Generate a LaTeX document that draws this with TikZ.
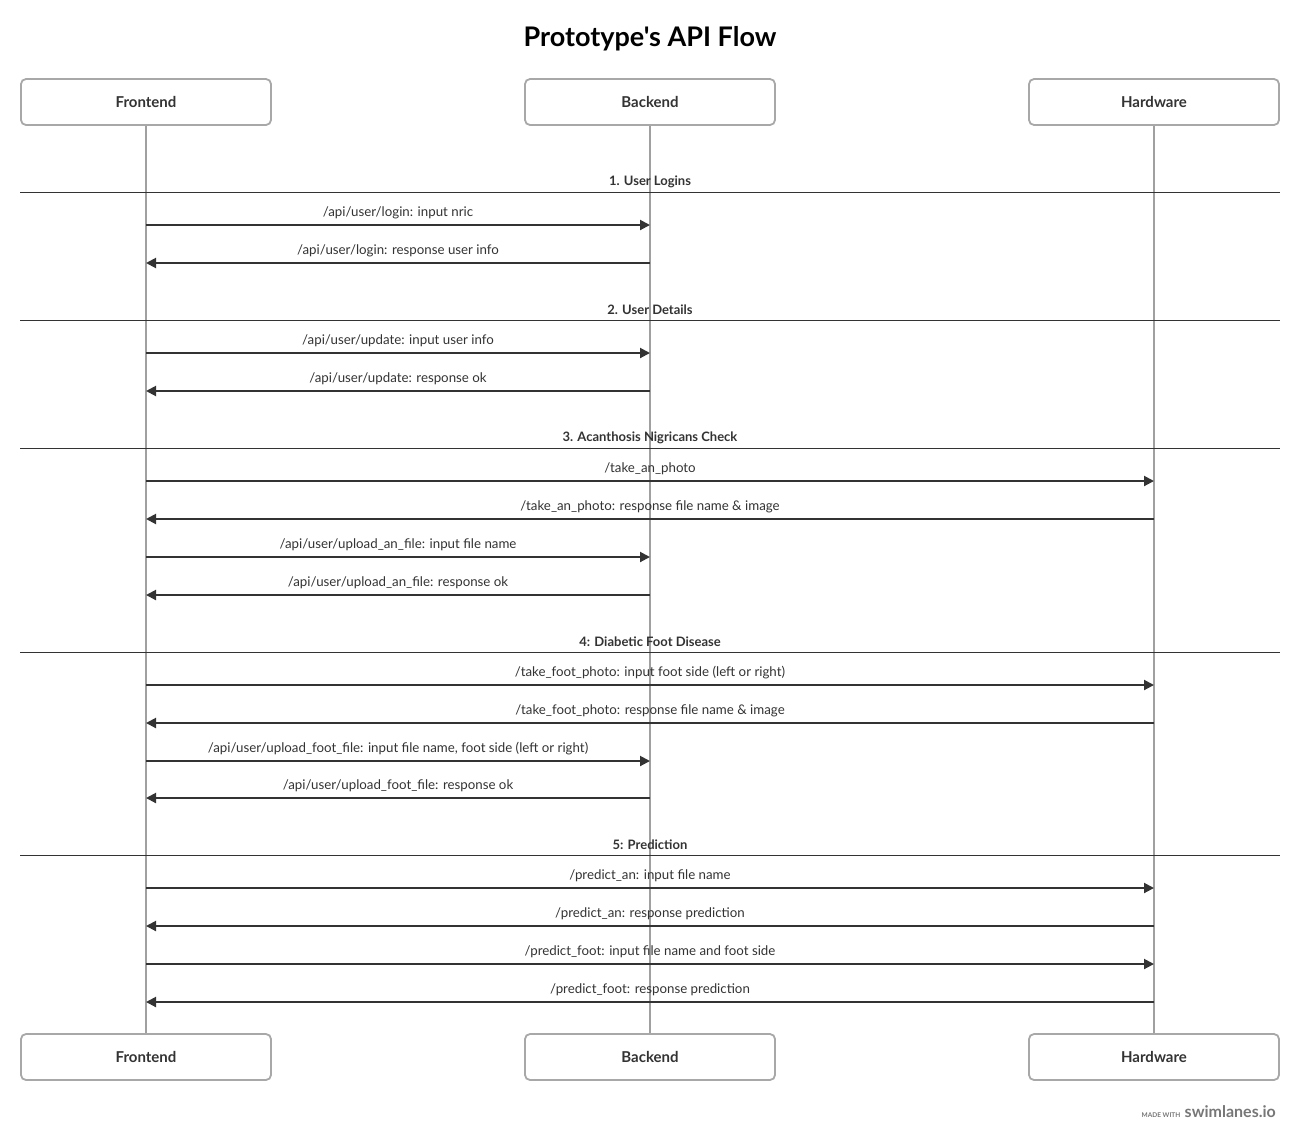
\documentclass[tikz,border=0pt]{standalone}
\usepackage{fontspec}
\setmainfont{Lato}
\newfontfamily\titlefont{Lato}[Ligatures=ResetAll]
\usetikzlibrary{arrows.meta}
\definecolor{textdark}{HTML}{333333}
\definecolor{boxgray}{HTML}{A8A8A8}
\definecolor{linegray}{HTML}{A0A0A0}
\definecolor{arrowdark}{HTML}{333333}
\definecolor{footgray}{HTML}{777777}
\begin{document}
\begin{tikzpicture}[x=1pt,y=-1pt,
  actor/.style={draw=boxgray, line width=1.8pt, rounded corners=5pt, minimum width=250pt, minimum height=46pt, fill=white, font=\fontsize{15}{18}\selectfont\bfseries, text=textdark, inner sep=0pt},
  lifeline/.style={draw=linegray, line width=1.5pt},
  msg/.style={draw=arrowdark, line width=2pt, -{Triangle[length=10pt,width=10pt]}},
  lbl/.style={font=\fontsize{13.3}{15}\selectfont, text=textdark, inner sep=0pt},
  sectitle/.style={font=\fontsize{13}{15}\selectfont\bfseries, text=textdark, inner sep=0pt},
  secline/.style={draw=textdark, line width=0.9pt}]
\useasboundingbox[fill=white] (0,0) rectangle (1300,1141);

\node[font=\titlefont\fontsize{27}{32}\selectfont\bfseries, text=black] (title) at (650,39) {Prototype's API Flow};

% actors
\node[actor] (ft) at (146,102) {\raisebox{-1pt}{Frontend}};
\node[actor] (bt) at (650,102) {\raisebox{-1pt}{Backend}};
\node[actor] (ht) at (1154,102) {\raisebox{-1pt}{Hardware}};
\node[actor] (fb) at (146,1057) {\raisebox{-1pt}{Frontend}};
\node[actor] (bb) at (650,1057) {\raisebox{-1pt}{Backend}};
\node[actor] (hb) at (1154,1057) {\raisebox{-1pt}{Hardware}};

% lifelines
\draw[lifeline] (ft.south) -- (fb.north);
\draw[lifeline] (bt.south) -- (bb.north);
\draw[lifeline] (ht.south) -- (hb.north);

% section markers
\coordinate (L) at (20,0);
\coordinate (R) at (1280,0);
\newcommand{\secmark}[3]{%
  \node[sectitle] (#1) at (650,#2-10.5) {#3};
  \draw[secline] (L |- 0,#2) -- (R |- 0,#2);}
\newcommand{\msgline}[5]{%
  \draw[msg] (#1 |- 0,#3) -- node[lbl, above=5pt] (#4) {#5} (#2 |- 0,#3);}

\secmark{s1}{192}{1. User Logins}
\msgline{ft}{bt}{225}{m1}{/api/user/login: input nric}
\msgline{bt}{ft}{263}{m2}{/api/user/login: response user info}

\secmark{s2}{320}{2. User Details}
\msgline{ft}{bt}{353}{m3}{/api/user/update: input user info}
\msgline{bt}{ft}{391}{m4}{/api/user/update: response ok}

\secmark{s3}{448}{3. Acanthosis Nigricans Check}
\msgline{ft}{ht}{481}{m5}{/take\_an\_photo}
\msgline{ht}{ft}{519}{m6}{/take\_an\_photo: response file name \& image}
\msgline{ft}{bt}{557}{m7}{/api/user/upload\_an\_file: input file name}
\msgline{bt}{ft}{595}{m8}{/api/user/upload\_an\_file: response ok}

\secmark{s4}{652}{4: Diabetic Foot Disease}
\msgline{ft}{ht}{685}{m9}{/take\_foot\_photo: input foot side (left or right)}
\msgline{ht}{ft}{723}{m10}{/take\_foot\_photo: response file name \& image}
\msgline{ft}{bt}{761}{m11}{/api/user/upload\_foot\_file: input file name, foot side (left or right)}
\msgline{bt}{ft}{798}{m12}{/api/user/upload\_foot\_file: response ok}

\secmark{s5}{855}{5: Prediction}
\msgline{ft}{ht}{888}{m13}{/predict\_an: input file name}
\msgline{ht}{ft}{926}{m14}{/predict\_an: response prediction}
\msgline{ft}{ht}{964}{m15}{/predict\_foot: input file name and foot side}
\msgline{ht}{ft}{1002}{m16}{/predict\_foot: response prediction}

% footer
\node[font=\fontsize{16}{18}\selectfont\bfseries, text=footgray, anchor=base east, inner sep=0pt] (brand) at (1276,1117) {swimlanes.io};
\node[font=\fontsize{6.5}{8}\selectfont\bfseries, text=footgray, anchor=base east, inner sep=0pt] (made) at ([xshift=-4pt]brand.base west) {MADE WITH};
\end{tikzpicture}
\end{document}
